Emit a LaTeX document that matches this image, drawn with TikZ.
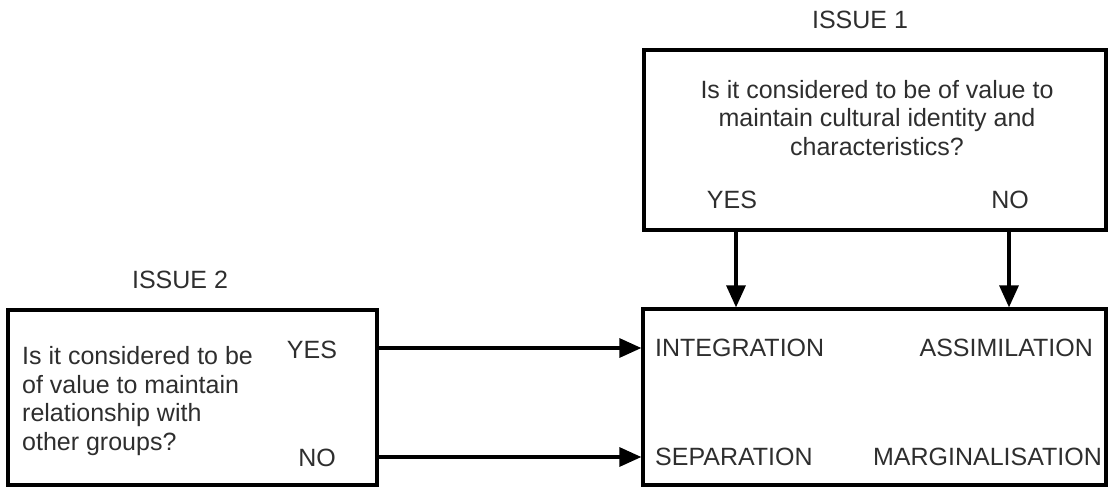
\documentclass[tikz,border=0pt]{standalone}
\usepackage{fontspec}
\setmainfont{Liberation Sans}
\usetikzlibrary{arrows.meta}
\definecolor{txt}{HTML}{2E2E2E}
\begin{document}
\begin{tikzpicture}[x=1pt,y=-1pt,
  box/.style={draw=black,line width=3.3pt,rectangle,inner sep=0pt},
  lbl/.style={text=txt,inner sep=0pt,font=\fontsize{25}{28.5}\selectfont},
  arr/.style={line width=3.3pt,-{Triangle[length=22pt,width=19pt]}}]
\useasboundingbox (0,0) rectangle (1108,487);
\clip (0,0) rectangle (1108,487);
% boxes
\node[box,minimum width=462pt,minimum height=180pt] (q1) at (875,140) {};
\node[box,minimum width=463pt,minimum height=176pt] (res) at (874.5,397) {};
\node[box,minimum width=369pt,minimum height=175pt] (q2) at (192.5,397.5) {};
% issue 1
\node[lbl] (t1) at (860,20) {ISSUE 1};
\node[lbl,align=center] (qt1) at (877,118) {Is it considered to be of value to\\maintain cultural identity and\\characteristics?};
\node[lbl] (y1) at (732,200) {YES};
\node[lbl] (n1) at (1010,200) {NO};
% issue 2
\node[lbl] (t2) at (180,280) {ISSUE 2};
\node[lbl,align=left,anchor=west] (qt2) at (22,401) {Is it considered to be\\of value to maintain\\relationship with\\other groups?};
\node[lbl] (y2) at (312,350) {YES};
\node[lbl] (n2) at (317,458) {NO};
% outcomes
\node[lbl,anchor=west] (int) at (655,348) {INTEGRATION};
\node[lbl,anchor=east] (ass) at (1093,348) {ASSIMILATION};
\node[lbl,anchor=west] (sep) at (655,457) {SEPARATION};
\node[lbl,anchor=east] (mar) at (1102,457) {MARGINALISATION};
% connectors
\draw[arr] (q1.south -| 736,0) -- (res.north -| 736,0);
\draw[arr] (q1.south -| 1009,0) -- (res.north -| 1009,0);
\draw[arr] (q2.east |- int) -- (res.west |- int);
\draw[arr] (q2.east |- sep) -- (res.west |- sep);
\end{tikzpicture}
\end{document}
